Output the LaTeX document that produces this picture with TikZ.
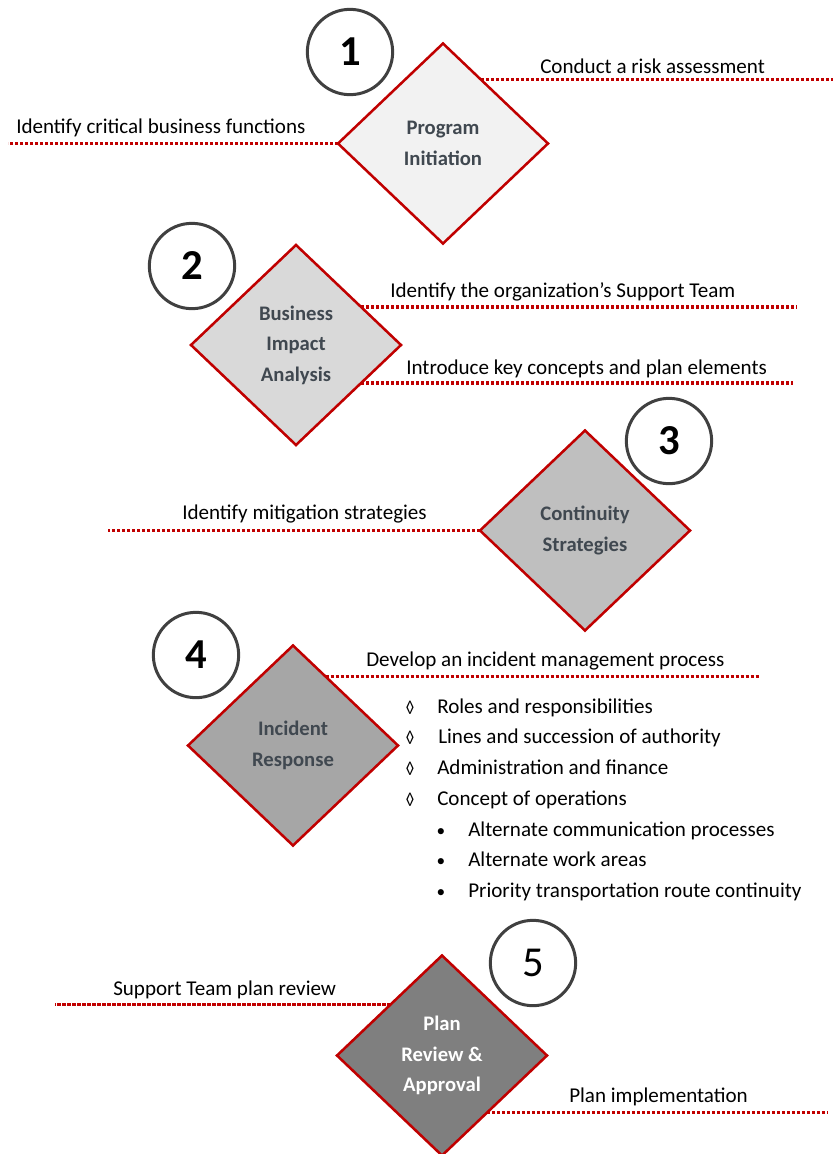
\documentclass[tikz,border=0pt]{standalone}
\usepackage{fontspec}
\setmainfont{Carlito}
\usetikzlibrary{shapes.geometric,calc}
\definecolor{dred}{HTML}{C00000}
\definecolor{cgray}{HTML}{404040}
\definecolor{tgray}{HTML}{404850}
\definecolor{f1}{HTML}{F2F2F2}
\definecolor{f2}{HTML}{D9D9D9}
\definecolor{f3}{HTML}{BFBFBF}
\definecolor{f4}{HTML}{A6A6A6}
\definecolor{f5}{HTML}{7F7F7F}
\begin{document}
\begin{tikzpicture}[x=0.75pt,y=-0.75pt,
  stage/.style={shape=diamond, draw=dred, line width=1.9pt, minimum width=157.5pt, minimum height=150pt,
    inner sep=0pt, outer sep=0pt, align=center, font=\fontsize{15.5}{22.8}\selectfont\bfseries, text=tgray},
  num/.style={circle, draw=cgray, line width=2.25pt, minimum size=64pt, inner sep=0pt,
    font=\fontsize{32}{32}\selectfont\bfseries},
  dotline/.style={draw=dred, line width=2.3pt, dash pattern=on 2.3pt off 1.45pt},
  lbl/.style={anchor=base west, inner sep=0pt, font=\fontsize{15.8}{18}\selectfont},
  mark1/.style={anchor=base, inner sep=0pt, font=\fontsize{13}{16}\selectfont}
]
\useasboundingbox (0,0) rectangle (833,1154);

% diamonds
\node[stage, fill=f1] (d1) at (443,143.5) {Program\\Initiation};
\node[stage, fill=f2] (d2) at (296,345) {Business\\Impact\\Analysis};
\node[stage, fill=f3] (d3) at (585,530.5) {Continuity\\Strategies};
\node[stage, fill=f4] (d4) at (293,745.5) {Incident\\Response};
\node[stage, fill=f5, text=white] (d5) at (442,1055.5) {Plan\\Review \&\\Approval};

% number circles
\node[num] (n1) at (350,52) {1};
\node[num] (n2) at (192,266) {2};
\node[num] (n3) at (669,441) {3};
\node[num] (n4) at (196,655) {4};
\node[num, font=\fontsize{32}{32}\selectfont] (n5) at (533,963) {5};

% end coordinates
\coordinate (e1) at (833,0);
\coordinate (e2) at (8,0);
\coordinate (e3) at (797,0);
\coordinate (e4) at (793,0);
\coordinate (e5) at (108,0);
\coordinate (e6) at (760,0);
\coordinate (e7) at (55,0);
\coordinate (e8) at (828,0);

% connectors
\coordinate (p1) at ($(d1.north)!0.36!(d1.east)$);
\draw[dotline] (p1) -- (p1 -| e1);
\draw[dotline] (d1.west) -- (d1.west -| e2);
\coordinate (p3) at ($(d2.north)!0.62!(d2.east)$);
\draw[dotline] (p3) -- (p3 -| e3);
\coordinate (p4) at ($(d2.east)!0.38!(d2.south)$);
\draw[dotline] (p4) -- (p4 -| e4);
\draw[dotline] (d3.west) -- (d3.west -| e5);
\coordinate (p6) at ($(d4.north)!0.31!(d4.east)$);
\draw[dotline] (p6) -- (p6 -| e6);
\coordinate (p7) at ($(d5.north)!0.49!(d5.west)$);
\draw[dotline] (p7) -- (p7 -| e7);
\coordinate (p8) at ($(d5.east)!0.57!(d5.south)$);
\draw[dotline] (p8) -- (p8 -| e8);

% labels
\node[lbl] (l1) at (540,73) {Conduct a risk assessment};
\node[lbl] (l2) at (16,133) {Identify critical business functions};
\node[lbl] (l3) at (390,297) {Identify the organization’s Support Team};
\node[lbl] (l4) at (406,374) {Introduce key concepts and plan elements};
\node[lbl] (l5) at (182,519) {Identify mitigation strategies};
\node[lbl] (l6) at (366,666) {Develop an incident management process};
\node[lbl] (l7) at (113,995) {Support Team plan review};
\node[lbl] (l8) at (569,1102) {Plan implementation};

% list
\node[mark1] (m1) at (410,713) {◊};
\node[lbl] (t1) at (437,713) {Roles and responsibilities};
\node[mark1] (m2) at (410,743) {◊};
\node[lbl] (t2) at (438,743) {Lines and succession of authority};
\node[mark1] (m3) at (410,774) {◊};
\node[lbl] (t3) at (437,774) {Administration and finance};
\node[mark1] (m4) at (410,805) {◊};
\node[lbl] (t4) at (437,805) {Concept of operations};
\node[mark1] (b1) at (441,836) {•};
\node[lbl] (s1) at (468,836) {Alternate communication processes};
\node[mark1] (b2) at (441,866) {•};
\node[lbl] (s2) at (468,866) {Alternate work areas};
\node[mark1] (b3) at (441,897) {•};
\node[lbl] (s3) at (468,897) {Priority transportation route continuity};
\end{tikzpicture}
\end{document}
